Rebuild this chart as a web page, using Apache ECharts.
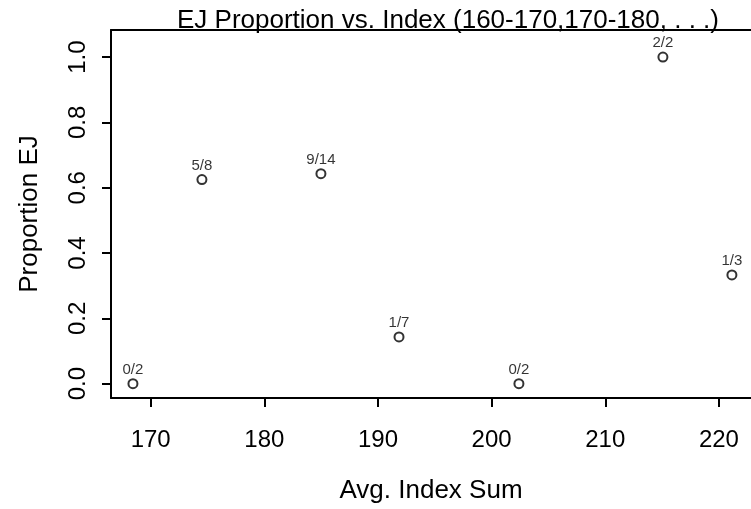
<!DOCTYPE html>
<html>
<head>
<meta charset="utf-8">
<script src="https://cdn.jsdelivr.net/npm/echarts@6/dist/echarts.min.js"></script>
<style>
  html, body { margin: 0; padding: 0; background: #fff; }
  #main { width: 751px; height: 509px; }
</style>
</head>
<body>
<div id="main"></div>
<script>
// 数据
var avgIndex = [168.44, 174.51, 184.98, 191.85, 202.4, 215.07, 221.14];
var proportion = [0, 0.625, 0.643, 0.143, 0, 1.0, 0.333];
var pointLabels = ['0/2', '5/8', '9/14', '1/7', '0/2', '2/2', '1/3'];
var xTicks = [170, 180, 190, 200, 210, 220];
var yTicks = [0, 0.2, 0.4, 0.6, 0.8, 1.0];

var font = 'Liberation Sans, Arial, Helvetica, sans-serif';
var xMin = 166.51, xMax = 222.82;

var seriesData = avgIndex.map(function (x, i) {
    return [x, proportion[i], pointLabels[i]];
});

var myChart = echarts.init(document.getElementById('main'));
var option = {
    backgroundColor: '#fff',
    animation: false,
    title: {
        text: 'EJ Proportion vs. Index (160-170,170-180, . . .)',
        left: 172,
        top: 3,
        textStyle: { fontFamily: font, fontSize: 26, fontWeight: 'normal', color: '#000' }
    },
    grid: { left: 111, top: 30, right: 0, bottom: 111 },
    xAxis: [{
        type: 'value',
        position: 'bottom',
        min: xMin,
        max: xMax,
        name: 'Avg. Index Sum',
        nameLocation: 'middle',
        nameGap: 80,
        nameTextStyle: { fontFamily: font, fontSize: 26, color: '#000' },
        axisLine: { show: true, onZero: false, lineStyle: { color: '#000', width: 2 } },
        axisTick: { show: true, length: 9, lineStyle: { color: '#000', width: 2 }, customValues: xTicks },
        axisLabel: { fontFamily: font, fontSize: 24, color: '#000', margin: 30, customValues: xTicks },
        splitLine: { show: false }
    }, {
        // 上边框
        type: 'value',
        position: 'top',
        min: xMin,
        max: xMax,
        axisLine: { show: true, onZero: false, lineStyle: { color: '#000', width: 2 } },
        axisTick: { show: false },
        axisLabel: { show: false },
        splitLine: { show: false }
    }],
    yAxis: {
        type: 'value',
        min: -0.044,
        max: 1.083,
        name: 'Proportion EJ',
        nameLocation: 'middle',
        nameGap: 68,
        nameRotate: 90,
        nameTextStyle: { fontFamily: font, fontSize: 26, color: '#000' },
        axisLine: { show: true, onZero: false, lineStyle: { color: '#000', width: 2 } },
        axisTick: { show: true, length: 9, lineStyle: { color: '#000', width: 2 }, customValues: yTicks },
        axisLabel: {
            fontFamily: font, fontSize: 24, color: '#000', margin: 21, rotate: 90,
            customValues: yTicks,
            formatter: function (v) { return v.toFixed(1); }
        },
        splitLine: { show: false }
    },
    series: [{
        type: 'scatter',
        data: seriesData,
        symbol: 'circle',
        symbolSize: 9,
        itemStyle: { color: 'rgba(0,0,0,0)', borderColor: '#000', borderWidth: 2 },
        label: {
            show: true,
            position: 'top',
            distance: 1,
            fontFamily: font,
            fontSize: 15,
            color: '#000',
            formatter: function (p) { return p.data[2]; }
        }
    }]
};
myChart.setOption(option);
</script>
</body>
</html>
